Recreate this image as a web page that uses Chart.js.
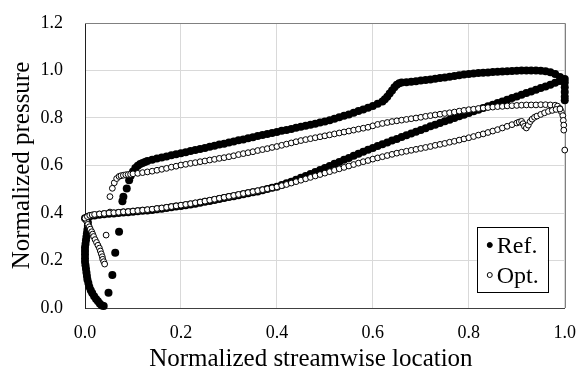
<!DOCTYPE html>
<html>
<head>
<meta charset="utf-8">
<script src="https://cdn.jsdelivr.net/npm/chart.js@4"></script>
<style>
  html,body{margin:0;padding:0;background:#fff;}
  #c{display:block;}
</style>
</head>
<body>
<canvas id="c" width="576" height="369"></canvas>
<script>
/* ===== data: [x, y] pairs per surface branch ===== */

const xTicks=[0,0.2,0.4,0.6,0.8,1.0];
const yTicks=[0,0.2,0.4,0.6,0.8,1.0,1.2];
const xTitle='Normalized streamwise location';
const yTitle='Normalized pressure';

/* Ref. — leading edge, going down to the pressure minimum and back up */
const refNose=[
  [0.004,0.372],[0.006,0.360],[0.006,0.345],[0.005,0.330],[0.004,0.315],[0.003,0.300],
  [0.002,0.285],[0.001,0.270],[0.000,0.255],[0.000,0.240],[0.000,0.225],[0.000,0.210],
  [0.000,0.195],[0.001,0.180],[0.002,0.165],[0.003,0.150],[0.004,0.135],[0.005,0.120],
  [0.007,0.105],[0.009,0.090],[0.012,0.075],[0.015,0.063],[0.019,0.050],[0.023,0.038],
  [0.027,0.028],[0.031,0.018],[0.035,0.011],[0.039,0.008],
  [0.049,0.064],[0.057,0.139],[0.063,0.233],[0.071,0.321],[0.078,0.450],[0.080,0.468],
  [0.087,0.503],[0.092,0.538]
];
/* Ref. — upper branch */
const refUpper=[
  [0.095,0.556],[0.100,0.575],[0.105,0.589],[0.110,0.599],[0.115,0.606],[0.120,0.611],
  [0.125,0.615],[0.130,0.619],[0.140,0.624],[0.150,0.629],[0.160,0.634],[0.170,0.638],
  [0.180,0.643],[0.190,0.647],[0.200,0.652],[0.210,0.656],[0.220,0.661],[0.230,0.665],
  [0.240,0.670],[0.250,0.674],[0.260,0.679],[0.270,0.683],[0.280,0.688],[0.290,0.692],
  [0.300,0.697],[0.310,0.701],[0.320,0.706],[0.330,0.710],[0.340,0.715],[0.350,0.719],
  [0.360,0.724],[0.370,0.728],[0.380,0.733],[0.390,0.737],[0.400,0.741],[0.410,0.746],
  [0.420,0.750],[0.430,0.754],[0.440,0.759],[0.450,0.763],[0.460,0.767],[0.470,0.772],
  [0.480,0.776],[0.490,0.781],[0.500,0.785],[0.510,0.791],[0.520,0.797],[0.530,0.803],
  [0.540,0.809],[0.550,0.815],[0.560,0.822],[0.570,0.829],[0.580,0.836],[0.590,0.843],
  [0.600,0.851],[0.610,0.860],[0.620,0.870],[0.625,0.879],[0.630,0.890],[0.635,0.903],
  [0.640,0.916],[0.645,0.929],[0.650,0.940],[0.655,0.946],[0.660,0.949],[0.670,0.951],
  [0.680,0.953],[0.690,0.955],[0.700,0.958],[0.710,0.960],[0.720,0.962],[0.730,0.965],
  [0.740,0.968],[0.750,0.971],[0.760,0.974],[0.770,0.977],[0.780,0.980],[0.790,0.983],
  [0.800,0.985],[0.810,0.987],[0.820,0.989],[0.830,0.991],[0.840,0.992],[0.850,0.994],
  [0.860,0.995],[0.870,0.996],[0.880,0.997],[0.890,0.998],[0.900,0.999],[0.910,1.000],
  [0.920,1.000],[0.930,1.000],[0.940,1.000],[0.950,0.999],[0.960,0.997],[0.970,0.993],
  [0.980,0.985],[0.990,0.973],[0.995,0.962],[1.000,0.950],[1.000,0.930],[1.000,0.910],
  [1.000,0.890],[1.000,0.875]
];
/* Ref. — lower branch */
const refLower=[
  [0.000,0.378],[0.005,0.382],[0.010,0.386],[0.020,0.390],[0.030,0.393],[0.040,0.395],
  [0.050,0.397],[0.060,0.398],[0.070,0.400],[0.080,0.402],[0.090,0.403],[0.100,0.405],
  [0.110,0.407],[0.120,0.409],[0.130,0.411],[0.140,0.413],[0.150,0.416],[0.160,0.418],
  [0.170,0.421],[0.180,0.424],[0.190,0.427],[0.200,0.430],[0.210,0.433],[0.220,0.436],
  [0.230,0.439],[0.240,0.443],[0.250,0.447],[0.260,0.451],[0.270,0.455],[0.280,0.459],
  [0.290,0.463],[0.300,0.467],[0.310,0.471],[0.320,0.475],[0.330,0.479],[0.340,0.483],
  [0.350,0.487],[0.360,0.491],[0.370,0.496],[0.380,0.501],[0.390,0.506],[0.400,0.511],
  [0.410,0.518],[0.420,0.525],[0.430,0.532],[0.440,0.540],[0.450,0.548],[0.460,0.556],
  [0.470,0.564],[0.480,0.573],[0.490,0.581],[0.500,0.590],[0.510,0.598],[0.520,0.607],
  [0.530,0.615],[0.540,0.624],[0.550,0.632],[0.560,0.641],[0.570,0.649],[0.580,0.658],
  [0.590,0.666],[0.600,0.674],[0.610,0.682],[0.620,0.690],[0.630,0.697],[0.640,0.705],
  [0.650,0.712],[0.660,0.720],[0.670,0.727],[0.680,0.735],[0.690,0.742],[0.700,0.750],
  [0.710,0.757],[0.720,0.765],[0.730,0.772],[0.740,0.779],[0.750,0.786],[0.760,0.793],
  [0.770,0.800],[0.780,0.807],[0.790,0.814],[0.800,0.821],[0.810,0.828],[0.820,0.835],
  [0.830,0.842],[0.840,0.849],[0.850,0.856],[0.860,0.863],[0.870,0.870],[0.880,0.877],
  [0.890,0.884],[0.900,0.891],[0.910,0.898],[0.920,0.905],[0.930,0.912],[0.940,0.919],
  [0.950,0.926],[0.960,0.933],[0.970,0.940],[0.980,0.948],[0.990,0.956],[1.000,0.964]
];

/* Opt. — leading edge */
const optNose=[
  [0.002,0.372],[0.004,0.362],[0.006,0.352],[0.009,0.342],[0.011,0.332],[0.014,0.321],
  [0.016,0.311],[0.018,0.301],[0.021,0.288],[0.024,0.276],[0.027,0.264],[0.030,0.252],
  [0.032,0.240],[0.034,0.228],[0.036,0.216],[0.037,0.205],[0.039,0.195],[0.041,0.185],
  [0.044,0.307],[0.052,0.404],[0.052,0.469],[0.057,0.504],[0.061,0.527],[0.066,0.545],
  [0.071,0.554]
];
/* Opt. — upper branch */
const optUpper=[
  [0.075,0.557],[0.080,0.559],[0.085,0.561],[0.090,0.562],[0.095,0.563],[0.100,0.565],
  [0.110,0.567],[0.120,0.570],[0.130,0.573],[0.140,0.576],[0.150,0.580],[0.160,0.584],
  [0.170,0.588],[0.180,0.593],[0.190,0.597],[0.200,0.602],[0.210,0.605],[0.220,0.609],
  [0.230,0.612],[0.240,0.616],[0.250,0.619],[0.260,0.623],[0.270,0.626],[0.280,0.630],
  [0.290,0.633],[0.300,0.637],[0.310,0.641],[0.320,0.646],[0.330,0.650],[0.340,0.654],
  [0.350,0.658],[0.360,0.663],[0.370,0.667],[0.380,0.671],[0.390,0.676],[0.400,0.680],
  [0.410,0.685],[0.420,0.690],[0.430,0.695],[0.440,0.700],[0.450,0.705],[0.460,0.709],
  [0.470,0.713],[0.480,0.717],[0.490,0.721],[0.500,0.725],[0.510,0.729],[0.520,0.733],
  [0.530,0.737],[0.540,0.741],[0.550,0.745],[0.560,0.749],[0.570,0.753],[0.580,0.757],
  [0.590,0.761],[0.600,0.767],[0.610,0.773],[0.620,0.777],[0.630,0.781],[0.640,0.785],
  [0.650,0.788],[0.660,0.791],[0.670,0.794],[0.680,0.797],[0.690,0.800],[0.700,0.803],
  [0.710,0.807],[0.720,0.810],[0.730,0.813],[0.740,0.816],[0.750,0.819],[0.760,0.822],
  [0.770,0.825],[0.780,0.829],[0.790,0.832],[0.800,0.835],[0.810,0.837],[0.820,0.840],
  [0.830,0.842],[0.840,0.844],[0.850,0.846],[0.860,0.848],[0.870,0.849],[0.880,0.851],
  [0.890,0.852],[0.900,0.853],[0.910,0.854],[0.920,0.855],[0.930,0.855],[0.940,0.855],
  [0.950,0.856],[0.960,0.856],[0.970,0.855],[0.980,0.854],[0.985,0.850],[0.990,0.840],
  [0.993,0.826],[0.996,0.810],[0.997,0.790],[0.998,0.770],[0.998,0.749],[1.000,0.665]
];
/* Opt. — lower branch */
const optLower=[
  [0.000,0.378],[0.005,0.385],[0.010,0.390],[0.015,0.392],[0.020,0.394],[0.030,0.396],
  [0.040,0.398],[0.050,0.400],[0.060,0.401],[0.070,0.403],[0.080,0.405],[0.090,0.406],
  [0.100,0.408],[0.110,0.410],[0.120,0.412],[0.130,0.414],[0.140,0.416],[0.150,0.419],
  [0.160,0.421],[0.170,0.424],[0.180,0.427],[0.190,0.430],[0.200,0.433],[0.210,0.436],
  [0.220,0.439],[0.230,0.443],[0.240,0.446],[0.250,0.450],[0.260,0.454],[0.270,0.458],
  [0.280,0.462],[0.290,0.466],[0.300,0.470],[0.310,0.474],[0.320,0.478],[0.330,0.482],
  [0.340,0.486],[0.350,0.490],[0.360,0.494],[0.370,0.498],[0.380,0.502],[0.390,0.506],
  [0.400,0.510],[0.410,0.515],[0.420,0.520],[0.430,0.526],[0.440,0.532],[0.450,0.538],
  [0.460,0.544],[0.470,0.550],[0.480,0.556],[0.490,0.562],[0.500,0.568],[0.510,0.574],
  [0.520,0.580],[0.530,0.586],[0.540,0.592],[0.550,0.598],[0.560,0.604],[0.570,0.610],
  [0.580,0.616],[0.590,0.621],[0.600,0.627],[0.610,0.632],[0.620,0.637],[0.630,0.642],
  [0.640,0.647],[0.650,0.652],[0.660,0.656],[0.670,0.660],[0.680,0.664],[0.690,0.668],
  [0.700,0.672],[0.710,0.676],[0.720,0.680],[0.730,0.685],[0.740,0.689],[0.750,0.693],
  [0.760,0.698],[0.770,0.702],[0.780,0.707],[0.790,0.712],[0.800,0.717],[0.810,0.722],
  [0.820,0.728],[0.830,0.733],[0.840,0.739],[0.850,0.745],[0.860,0.751],[0.870,0.758],
  [0.880,0.765],[0.890,0.772],[0.900,0.779],[0.905,0.783],[0.910,0.786],[0.913,0.776],
  [0.916,0.765],[0.920,0.758],[0.924,0.770],[0.928,0.785],[0.932,0.795],[0.937,0.803],
  [0.942,0.808],[0.950,0.815],[0.958,0.822],[0.966,0.828],[0.974,0.832],[0.982,0.836],
  [0.990,0.838]
];

/* ===== chart ===== */
const SERIF='"Liberation Serif","Times New Roman",serif';
const pts=a=>a.map(p=>({x:p[0],y:p[1]}));

// grey frame on top/right of the plot area (Excel-style plot border)
const frame={
  id:'frame',
  beforeDatasetsDraw(chart){
    const {ctx,chartArea:a}=chart;
    ctx.save();
    ctx.strokeStyle='#808080';ctx.lineWidth=1;
    ctx.beginPath();
    ctx.moveTo(a.left,Math.round(a.top)+0.5);
    ctx.lineTo(Math.round(a.right)+0.5,Math.round(a.top)+0.5);
    ctx.lineTo(Math.round(a.right)+0.5,a.bottom);
    ctx.stroke();
    ctx.restore();
  }
};

// x title sits a little left of the plot centre, as in Excel
const xTitlePlugin={
  id:'xTitlePlugin',
  afterDraw(chart){
    const {ctx,chartArea:a}=chart;
    ctx.save();
    ctx.font='25px '+SERIF;ctx.fillStyle='#000';
    ctx.textAlign='center';ctx.textBaseline='alphabetic';
    ctx.fillText(xTitle,(a.left+a.right)/2-14,chart.height-3);
    ctx.restore();
  }
};

// boxed legend inside the plot, lower right
const boxLegend={
  id:'boxLegend',
  afterDraw(chart){
    const {ctx,chartArea:a}=chart;
    const r=a.right-17, b=a.bottom-16, w=71, h=65;
    const l=r-w, t=b-h;
    ctx.save();
    ctx.fillStyle='#fff';ctx.fillRect(l,t,w,h);
    ctx.strokeStyle='#000';ctx.lineWidth=1;
    ctx.strokeRect(Math.round(l)+0.5,Math.round(t)+0.5,w,h);
    ctx.font='24px '+SERIF;ctx.textBaseline='alphabetic';
    chart.data.datasets.forEach((ds,i)=>{
      const cy=t+18+i*30;
      ctx.beginPath();ctx.arc(l+13,cy,2.5,0,Math.PI*2);
      ctx.fillStyle=ds.pointBackgroundColor;ctx.fill();
      ctx.strokeStyle='#000';ctx.lineWidth=1;ctx.stroke();
      ctx.fillStyle='#000';
      ctx.fillText(ds.label,l+20,cy+7.5);
    });
    ctx.restore();
  }
};

new Chart(document.getElementById('c'),{
  type:'scatter',
  data:{datasets:[{
    label:'Ref.',data:pts([...refNose,...refUpper,...refLower]),
    pointRadius:4,pointBackgroundColor:'#000',pointBorderColor:'#000',pointBorderWidth:0,
    showLine:false,clip:false,order:1
  },{
    label:'Opt.',data:pts([...optNose,...optUpper,...optLower]),
    pointRadius:2.9,pointBackgroundColor:'#fff',pointBorderColor:'#000',pointBorderWidth:1,
    showLine:false,clip:false,order:0
  }]},
  plugins:[frame,xTitlePlugin,boxLegend],
  options:{
    responsive:false,animation:false,devicePixelRatio:1,
    layout:{padding:{top:23,right:11,left:0,bottom:0}},
    plugins:{legend:{display:false},tooltip:{enabled:false}},
    scales:{
      x:{
        type:'linear',min:0,max:1,
        afterBuildTicks:s=>{s.ticks=xTicks.map(v=>({value:v}));},
        afterFit:s=>{s.height=61;},
        grid:{color:'#d9d9d9',drawTicks:true,tickLength:14,tickColor:'rgba(0,0,0,0)'},
        border:{color:'#404040'},
        ticks:{color:'#000',padding:0,font:{family:SERIF,size:18},callback:v=>v.toFixed(1)},
        title:{display:false}
      },
      y:{
        type:'linear',min:0,max:1.2,
        afterBuildTicks:s=>{s.ticks=yTicks.map(v=>({value:v}));},
        afterFit:s=>{s.width=85;},
        grid:{color:'#d9d9d9',drawTicks:true,tickLength:22,tickColor:'rgba(0,0,0,0)'},
        border:{color:'#202020'},
        ticks:{color:'#000',padding:0,font:{family:SERIF,size:18},callback:v=>v.toFixed(1)},
        title:{display:true,text:yTitle,color:'#000',
          font:{family:SERIF,size:25,lineHeight:1.2},padding:{top:7,bottom:0}}
      }
    }
  }
});
</script>
</body>
</html>
